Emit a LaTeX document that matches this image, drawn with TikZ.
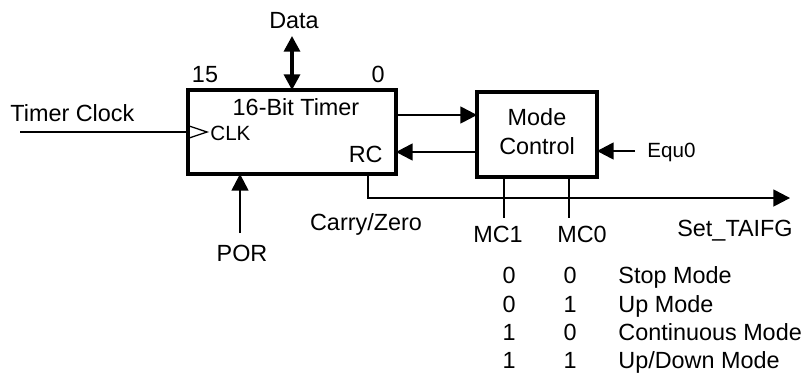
\documentclass[tikz,border=0pt]{standalone}
\usepackage{fontspec}
\setmainfont{Liberation Sans}
\usetikzlibrary{arrows.meta}
\begin{document}
\begin{tikzpicture}[x=0.5pt,y=-0.5pt,
  font=\fontsize{11.7}{14}\selectfont,
  blk/.style={draw,line width=1.6pt,inner sep=0pt,outer sep=0pt},
  txt/.style={inner sep=0pt,anchor=base},
  small/.style={font=\fontsize{10.3}{12}\selectfont},
  wire/.style={line width=0.65pt},
  arr/.style={wire,-{Triangle[length=8.3pt,width=8.5pt]}},
  darr/.style={line width=1.6pt,{Triangle[length=7.8pt,width=8pt]}-{Triangle[length=7.8pt,width=8pt]}}]
\useasboundingbox (0,0) rectangle (806,377);
% blocks
\node[blk,minimum width=104pt,minimum height=42pt] (timer) at (292,132) {};
\node[blk,minimum width=60pt,minimum height=42.5pt] (mode) at (537,134.5) {};
% texts in blocks
\node[txt] (ttl) at (296,115) {16-Bit Timer};
\node[txt,small,anchor=base west] (clk) at (210,140) {CLK};
\node[txt,anchor=base east] (rc) at (383,162) {RC};
\node[txt] (m1) at (537,125) {Mode};
\node[txt] (m2) at (537,154) {Control};
% labels
\node[txt] (data) at (294,28) {Data};
\node[txt] (b15) at (205,82) {15};
\node[txt] (b0) at (378,82) {0};
\node[txt,anchor=base west] (tclk) at (10,121) {Timer Clock};
\node[txt] (por) at (242,261) {POR};
\node[txt] (cz) at (366,230) {Carry/Zero};
\node[txt] (stf) at (735,236) {Set\_TAIFG};
\node[txt,small,anchor=base west] (equ) at (647,157) {Equ0};
\node[txt] (mc1) at (498,242) {MC1};
\node[txt] (mc0) at (582,242) {MC0};
% table
\node[txt] (r1a) at (509,283) {0};
\node[txt] (r1b) at (570,283) {0};
\node[txt,anchor=base west] (r1c) at (618,283) {Stop Mode};
\node[txt] (r2a) at (509,312) {0};
\node[txt] (r2b) at (570,312) {1};
\node[txt,anchor=base west] (r2c) at (618,312) {Up Mode};
\node[txt] (r3a) at (509,340) {1};
\node[txt] (r3b) at (570,340) {0};
\node[txt,anchor=base west] (r3c) at (618,340) {Continuous Mode};
\node[txt] (r4a) at (509,368) {1};
\node[txt] (r4b) at (570,368) {1};
\node[txt,anchor=base west] (r4c) at (618,368) {Up/Down Mode};
% coordinates
\coordinate (dtop) at (292,36);
\coordinate (clkin) at (20,132);
\coordinate (porb) at (240,233);
\coordinate (yu) at (0,115);
\coordinate (yl) at (0,152);
\coordinate (e0) at (635,151);
\coordinate (mc1b) at (504,218);
\coordinate (mc0b) at (569,218);
\coordinate (czc) at (368,198);
\coordinate (setc) at (790,198);
% connectors
\draw[darr] (dtop) -- (timer.north);
\draw[wire] (clkin) -- (timer.west);
\draw[wire] ([yshift=3.2pt]timer.west) -- ([xshift=9.5pt]timer.west) -- ([yshift=-3.2pt]timer.west);
\draw[arr] (porb) -- (porb |- timer.south);
\draw[arr] (timer.east |- yu) -- (mode.west |- yu);
\draw[arr] (mode.west |- yl) -- (timer.east |- yl);
\draw[arr] (e0) -- (mode.east |- e0);
\draw[wire] (mode.south -| mc1b) -- (mc1b);
\draw[wire] (mode.south -| mc0b) -- (mc0b);
\draw[arr] (timer.south -| czc) -- (czc) -- (setc);
\end{tikzpicture}
\end{document}
